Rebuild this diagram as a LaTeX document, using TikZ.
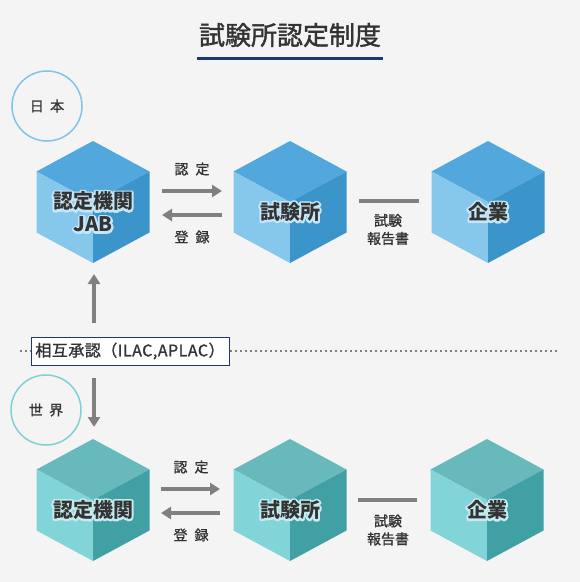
\documentclass[tikz,border=0pt]{standalone}
\usepackage{fontspec}
\setmainfont{Noto Sans CJK JP}
\usetikzlibrary{arrows.meta,calc}
\definecolor{bg}{HTML}{F4F4F4}
\definecolor{btop}{RGB}{82,168,220}
\definecolor{bleft}{RGB}{134,199,236}
\definecolor{bright}{RGB}{59,149,202}
\definecolor{ttop}{RGB}{104,185,188}
\definecolor{tleft}{RGB}{129,212,216}
\definecolor{tright}{RGB}{64,160,163}
\definecolor{navy}{RGB}{26,56,118}
\definecolor{arrowgray}{RGB}{128,128,128}
\definecolor{txt}{RGB}{51,51,51}
\definecolor{bglow}{RGB}{196,230,248}
\definecolor{tglow}{RGB}{196,236,238}
\definecolor{ringblue}{RGB}{128,196,234}
\definecolor{ringteal}{RGB}{128,208,214}
\tikzset{
  pics/cube/.style args={#1/#2/#3}{code={
    \fill[#1] (0,-61) -- (56.5,-30.5) -- (0,0) -- (-56.5,-30.5) -- cycle;
    \fill[#2] (-56.5,-30.5) -- (0,0) -- (0,61) -- (-56.5,30.5) -- cycle;
    \fill[#3] (56.5,-30.5) -- (0,0) -- (0,61) -- (56.5,30.5) -- cycle;
  }},
  cubetext/.style={font=\bfseries\fontsize{20}{23}\selectfont, text=txt, align=center, inner sep=0pt},
  smalltext/.style={font=\fontsize{14}{18}\selectfont\addfontfeature{FakeBold=1.2}, text=txt, inner sep=0pt, align=center},
  flow/.style={line width=4pt, draw=arrowgray, -{Triangle[width=12pt,length=10pt]}},
  link/.style={line width=4pt, draw=arrowgray},
  ring/.style={circle, draw=#1, line width=1.5pt, minimum size=70pt, inner sep=0pt,
    font=\fontsize{14}{17}\selectfont\addfontfeature{FakeBold=1.2}, text=txt},
}
% text with a light halo: a widely stroked copy (round joins) under the text itself
\newcommand\glowline[2]{\special{pdf:literal direct 1 j 1 J}\rlap{\addfontfeature{FakeBold=20}\color{#1}#2}#2}
\begin{document}
\begin{tikzpicture}[x=1pt,y=-1pt]
\fill[bg] (0,0) rectangle (580,582);
\useasboundingbox (0,0) rectangle (580,582);

% title
\node[font=\fontsize{26}{30}\selectfont\addfontfeature{FakeBold=1.5}, text=txt, inner sep=0pt] (title) at (290,35) {試験所認定制度};
\coordinate (ulA) at (197,58);
\coordinate (ulB) at (383,58);
\draw[navy, line width=3pt] (ulA) -- (ulB);

% circles
\node[ring=ringblue] (japan) at (47,106) {日\hspace{0.45em}本};
\node[ring=ringteal] (world) at (46,410) {世\hspace{0.45em}界};

% top row cubes
\coordinate (c1) at (93,202);
\coordinate (c2) at (290,202);
\coordinate (c3) at (488,202);
\pic at (c1) {cube={btop/bleft/bright}};
\pic at (c2) {cube={btop/bleft/bright}};
\pic at (c3) {cube={btop/bleft/bright}};
\node[cubetext] (jab) at (93,212) {\glowline{bglow}{認定機関}\\\glowline{bglow}{JAB}};
\node[cubetext] (lab) at (290,212) {\glowline{bglow}{試験所}};
\node[cubetext] (corp) at (488,212) {\glowline{bglow}{企業}};

% bottom row cubes
\coordinate (d1) at (93,500);
\coordinate (d2) at (290,500);
\coordinate (d3) at (487,500);
\pic at (d1) {cube={ttop/tleft/tright}};
\pic at (d2) {cube={ttop/tleft/tright}};
\pic at (d3) {cube={ttop/tleft/tright}};
\node[cubetext] (wab) at (93,510) {\glowline{tglow}{認定機関}};
\node[cubetext] (wlab) at (290,510) {\glowline{tglow}{試験所}};
\node[cubetext] (wcorp) at (487,510) {\glowline{tglow}{企業}};

% top row connectors
\coordinate (ta1) at (162,191); \coordinate (ta2) at (222,191);
\coordinate (tb1) at (222,215); \coordinate (tb2) at (162,215);
\draw[flow] (ta1) -- (ta2);
\draw[flow] (tb1) -- (tb2);
\node[smalltext] (tnin) at (192,169) {認\hspace{0.5em}定};
\node[smalltext] (ttor) at (192,237) {登\hspace{0.5em}録};
\coordinate (tl1) at (359,201); \coordinate (tl2) at (419,201);
\draw[link] (tl1) -- (tl2);
\node[smalltext] (trep) at (388,229.5) {試験\\報告書};

% bottom row connectors
\coordinate (ba1) at (161,489); \coordinate (ba2) at (220,489);
\coordinate (bb1) at (220,513); \coordinate (bb2) at (161,513);
\draw[flow] (ba1) -- (ba2);
\draw[flow] (bb1) -- (bb2);
\node[smalltext] (bnin) at (191,467) {認\hspace{0.5em}定};
\node[smalltext] (btor) at (191,535) {登\hspace{0.5em}録};
\coordinate (bl1) at (358,500); \coordinate (bl2) at (417,500);
\draw[link] (bl1) -- (bl2);
\node[smalltext] (brep) at (388,530) {試験\\報告書};

% mutual recognition
\coordinate (dl) at (20,351); \coordinate (dr) at (560,351);
\draw[arrowgray, line width=1.5pt, dash pattern=on 1.5pt off 3.5pt] (dl) -- (dr);
\node[draw=navy, fill=white, line width=1pt, minimum width=198pt, minimum height=28pt,
  inner sep=0pt, font=\fontsize{16}{18}\selectfont\addfontfeature{FakeBold=1.2,LetterSpace=3}, text=txt] (mra) at (130,351) {相互承認（ILAC,APLAC）};
\coordinate (up1) at (94,323); \coordinate (up2) at (94,274);
\coordinate (dn1) at (94,378); \coordinate (dn2) at (94,427);
\draw[flow] (up1) -- (up2);
\draw[flow] (dn1) -- (dn2);
\end{tikzpicture}
\end{document}
